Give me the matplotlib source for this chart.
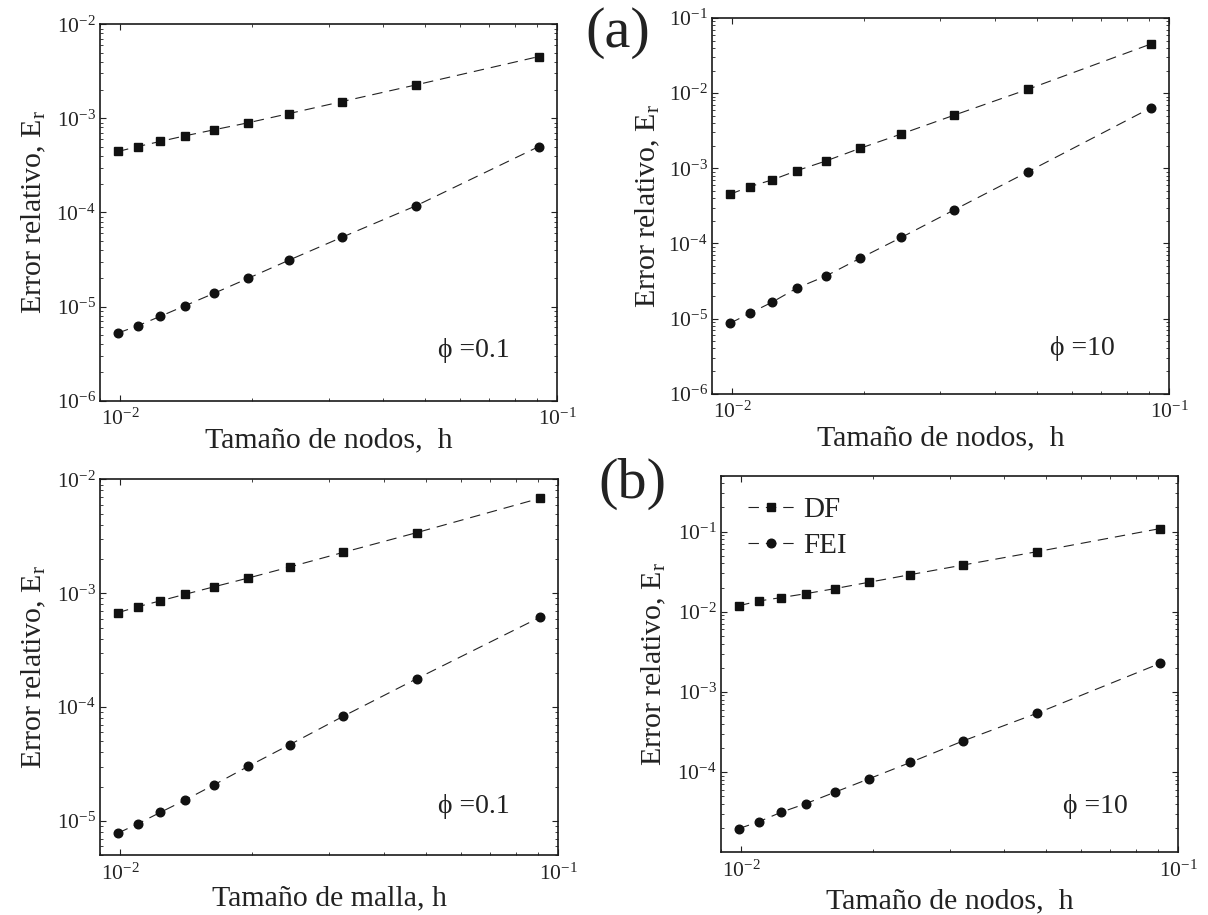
import matplotlib
matplotlib.use("Agg")
import matplotlib.pyplot as plt
from matplotlib.ticker import LogLocator, NullFormatter

plt.rcParams['font.family'] = ['Liberation Serif', 'DejaVu Serif']
plt.rcParams['mathtext.fontset'] = 'custom'
plt.rcParams['mathtext.rm'] = 'Liberation Serif'
plt.rcParams['mathtext.it'] = 'Liberation Serif:italic'
plt.rcParams['lines.scale_dashes'] = False

# Node spacing h
h = [0.0099, 0.01099, 0.01235, 0.01408, 0.01639, 0.01961, 0.02439, 0.03226, 0.04762, 0.09091]

# (a) phi = 0.1
df_a1 = [4.45e-4, 5.02e-4, 5.68e-4, 6.52e-4, 7.55e-4, 8.96e-4, 1.125e-3, 1.51e-3, 2.27e-3, 4.54e-3]
fei_a1 = [5.24e-6, 6.26e-6, 7.86e-6, 1.02e-5, 1.38e-5, 1.99e-5, 3.12e-5, 5.47e-5, 1.18e-4, 5.02e-4]
# (a) phi = 10
df_a2 = [4.52e-4, 5.71e-4, 7.0e-4, 9.31e-4, 1.25e-3, 1.84e-3, 2.86e-3, 5.1e-3, 1.13e-2, 4.51e-2]
fei_a2 = [8.67e-6, 1.18e-5, 1.65e-5, 2.55e-5, 3.68e-5, 6.32e-5, 1.20e-4, 2.80e-4, 9.03e-4, 6.38e-3]
# (b) phi = 0.1
df_b1 = [6.76e-4, 7.63e-4, 8.57e-4, 9.8e-4, 1.14e-3, 1.36e-3, 1.70e-3, 2.28e-3, 3.41e-3, 6.82e-3]
fei_b1 = [7.85e-6, 9.48e-6, 1.19e-5, 1.53e-5, 2.08e-5, 3.02e-5, 4.68e-5, 8.28e-5, 1.78e-4, 6.15e-4]
# (b) phi = 10
df_b2 = [1.19e-2, 1.36e-2, 1.50e-2, 1.68e-2, 1.94e-2, 2.33e-2, 2.90e-2, 3.83e-2, 5.62e-2, 1.09e-1]
fei_b2 = [1.96e-5, 2.39e-5, 3.13e-5, 4.02e-5, 5.57e-5, 8.18e-5, 1.31e-4, 2.44e-4, 5.41e-4, 2.26e-3]

series_labels = ["DF", "FEI"]
phi_labels = ["\u03d5 =0.1", "\u03d5 =10", "\u03d5 =0.1", "\u03d5 =10"]
xlabels = ["Tama\u00f1o de nodos,  h", "Tama\u00f1o de nodos,  h",
           "Tama\u00f1o de malla, h", "Tama\u00f1o de nodos,  h"]
ylabel = "Error relativo, E$_{\\mathrm{r}}$"

panels = [
    dict(rect=[0.0828, 0.5621, 0.3783, 0.4114], df=df_a1, fei=fei_a1, ylim=(1e-6, 1e-2),
         yticks=[1e-6, 1e-5, 1e-4, 1e-3, 1e-2], phi=(0.740, 0.116), xl=-0.070, yl=-0.114),
    dict(rect=[0.5894, 0.5697, 0.3783, 0.4106], df=df_a2, fei=fei_a2, ylim=(1e-6, 1e-1),
         yticks=[1e-6, 1e-5, 1e-4, 1e-3, 1e-2, 1e-1], phi=(0.740, 0.103), xl=-0.083, yl=-0.109),
    dict(rect=[0.0828, 0.0652, 0.3791, 0.4109], df=df_b1, fei=fei_b1, ylim=(5e-6, 1e-2),
         yticks=[1e-5, 1e-4, 1e-3, 1e-2], phi=(0.738, 0.112), xl=-0.079, yl=-0.114),
    dict(rect=[0.5969, 0.0689, 0.3783, 0.4113], df=df_b2, fei=fei_b2, ylim=(1e-5, 0.5),
         yticks=[1e-4, 1e-3, 1e-2, 1e-1], phi=(0.748, 0.103), xl=-0.096, yl=-0.116),
]

ink = "#111111"
fig = plt.figure(figsize=(12.08, 9.15), dpi=100)

for i, p in enumerate(panels):
    ax = fig.add_axes(p["rect"])
    ax.set_xscale("log")
    ax.set_yscale("log")
    l1, = ax.plot(h, p["df"], linestyle=(0, (7.5, 5)), linewidth=0.8, color="#222222",
                  marker="s", markersize=5.4, markerfacecolor=ink, markeredgecolor=ink,
                  label=series_labels[0])
    l2, = ax.plot(h, p["fei"], linestyle=(0, (7.5, 5)), linewidth=0.8, color="#222222",
                  marker="o", markersize=6.2, markerfacecolor=ink, markeredgecolor=ink,
                  label=series_labels[1])
    ax.set_xlim(0.009, 0.1)
    ax.set_ylim(*p["ylim"])
    ax.set_xticks([1e-2, 1e-1])
    ax.set_yticks(p["yticks"])
    ax.xaxis.set_minor_locator(LogLocator(base=10, subs=range(2, 10)))
    ax.yaxis.set_minor_locator(LogLocator(base=10, subs=range(2, 10), numticks=20))
    ax.xaxis.set_minor_formatter(NullFormatter())
    ax.yaxis.set_minor_formatter(NullFormatter())
    ax.tick_params(which="both", direction="in", top=True, right=True, colors="#222222",
                   labelcolor="#222222", labelsize=15.5)
    ax.tick_params(which="major", length=4, width=0.8)
    ax.tick_params(which="minor", length=2.5, width=0.6)
    ax.tick_params(axis="x", pad=6)
    ax.tick_params(axis="y", pad=3)
    for s in ax.spines.values():
        s.set_linewidth(1.2)
        s.set_color("#1a1a1a")
    ax.set_xlabel(xlabels[i], fontsize=21.5, color="#222222")
    ax.set_ylabel(ylabel, fontsize=21.5, color="#222222")
    ax.xaxis.set_label_coords(0.5, p["xl"])
    ax.yaxis.set_label_coords(p["yl"], 0.5)
    ax.xaxis.label.set_va("top")
    ax.text(p["phi"][0], p["phi"][1], phi_labels[i], transform=ax.transAxes,
            fontsize=20, ha="left", va="baseline", color="#222222")
    if i == 3:
        ax.legend(handles=[l1, l2], loc="upper left", bbox_to_anchor=(0.058, 0.945),
                  frameon=False, fontsize=21, handlelength=1.6, handletextpad=0.3,
                  labelspacing=0.35, borderpad=0, borderaxespad=0, numpoints=1,
                  labelcolor="#222222")

fig.text(585 / 1208, 1 - 33 / 915, "(a)", fontsize=42, ha="left", va="center", color="#222222")
fig.text(598 / 1208, 1 - 484 / 915, "(b)", fontsize=42, ha="left", va="center", color="#222222")

fig.savefig("out.png", dpi=100)
